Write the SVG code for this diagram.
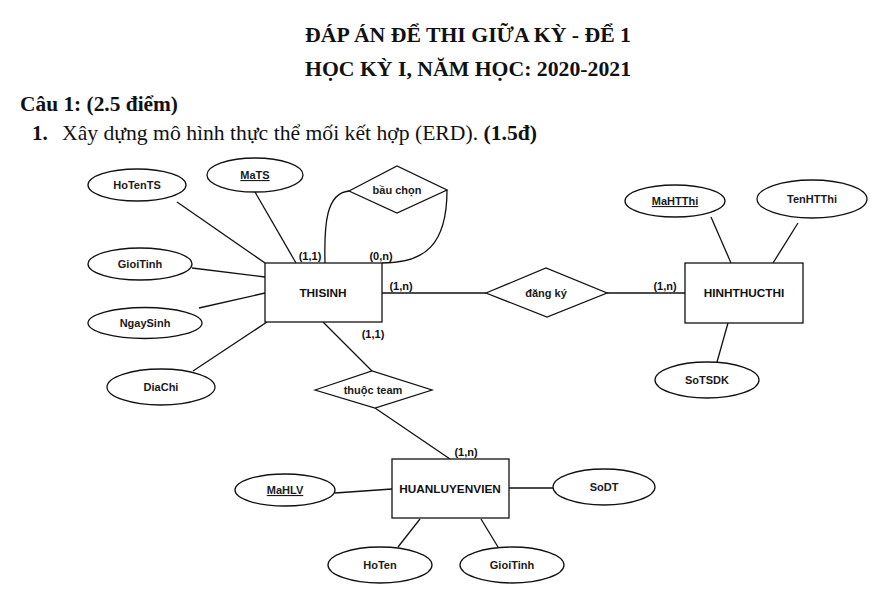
<svg xmlns="http://www.w3.org/2000/svg" width="895" height="602" viewBox="0 0 895 602">
<style>
.hd{font-family:"Liberation Serif","Times New Roman",serif;font-weight:bold;fill:#111}
.bd{font-family:"Liberation Serif","Times New Roman",serif;fill:#111}
.shape{fill:#fff;stroke:#111;stroke-width:1.3}
.ln{fill:none;stroke:#111;stroke-width:1.3}
.t{font-family:"Liberation Sans",Arial,sans-serif;font-size:11px;font-weight:bold;fill:#1a1a1a;text-anchor:middle}
.e{font-family:"Liberation Sans",Arial,sans-serif;font-size:11.8px;font-weight:bold;fill:#111;text-anchor:middle}
.c{font-family:"Liberation Sans",Arial,sans-serif;font-size:11px;font-weight:bold;fill:#111;text-anchor:middle}
.u{text-decoration:underline}
</style>
<rect width="895" height="602" fill="#fff"/>
<g id="header">
<text class="hd" x="305" y="42" font-size="21.5" textLength="326" lengthAdjust="spacingAndGlyphs">ĐÁP ÁN ĐỂ THI GIỮA KỲ - ĐỂ 1</text>
<text class="hd" x="305" y="76" font-size="21.5" textLength="326" lengthAdjust="spacingAndGlyphs">HỌC KỲ I, NĂM HỌC: 2020-2021</text>
<text class="hd" x="20" y="111" font-size="21" textLength="158" lengthAdjust="spacingAndGlyphs">Câu 1: (2.5 điểm)</text>
<text class="hd" x="32" y="140" font-size="21">1.</text>
<text class="bd" x="62" y="140" font-size="21" textLength="475" lengthAdjust="spacingAndGlyphs">Xây dựng mô hình thực thể mối kết hợp (ERD). <tspan font-weight="bold">(1.5đ)</tspan></text>
</g>
<g id="connectors">
<line class="ln" x1="177" y1="202" x2="265" y2="263"/>
<line class="ln" x1="255" y1="192" x2="296" y2="263"/>
<line class="ln" x1="192" y1="268" x2="265" y2="277"/>
<line class="ln" x1="199" y1="308" x2="265" y2="293"/>
<line class="ln" x1="193" y1="371" x2="267" y2="322"/>
<path class="ln" d="M325 263 C324 225 326 193 349 191"/>
<path class="ln" d="M382 263 C425 263 447 245 447 190"/>
<line class="ln" x1="382" y1="293" x2="486" y2="293"/>
<line class="ln" x1="607" y1="293" x2="685" y2="293"/>
<line class="ln" x1="711" y1="217" x2="731" y2="263"/>
<line class="ln" x1="798" y1="223" x2="773" y2="263"/>
<line class="ln" x1="728" y1="323" x2="717" y2="362"/>
<line class="ln" x1="323" y1="322" x2="372" y2="371"/>
<line class="ln" x1="375" y1="408" x2="450" y2="459"/>
<line class="ln" x1="335" y1="493" x2="392" y2="489"/>
<line class="ln" x1="509" y1="488" x2="553" y2="488"/>
<line class="ln" x1="420" y1="519" x2="398" y2="547"/>
<line class="ln" x1="481" y1="519" x2="498" y2="547"/>
</g>
<g id="labels">
<text class="c" x="310" y="260">(1,1)</text>
<text class="c" x="381" y="260">(0,n)</text>
<text class="c" x="401" y="290">(1,n)</text>
<text class="c" x="373" y="338">(1,1)</text>
<text class="c" x="665" y="290">(1,n)</text>
<text class="c" x="466" y="456">(1,n)</text>
</g>
<g id="THISINH"><rect class="shape" x="265" y="263" width="117" height="59"/><text class="e" x="323" y="297">THISINH</text></g>
<g id="HoTenTS"><ellipse class="shape" cx="137" cy="185" rx="49" ry="16"/><text class="t" x="137" y="189">HoTenTS</text></g>
<g id="MaTS"><ellipse class="shape" cx="255" cy="175" rx="48" ry="17"/><text class="t u" x="255" y="179">MaTS</text></g>
<g id="GioiTinh"><ellipse class="shape" cx="140" cy="264" rx="52" ry="16"/><text class="t" x="140" y="268">GioiTinh</text></g>
<g id="NgaySinh"><ellipse class="shape" cx="145" cy="323" rx="57" ry="15.5"/><text class="t" x="145" y="327">NgaySinh</text></g>
<g id="DiaChi"><ellipse class="shape" cx="161" cy="387" rx="54" ry="18"/><text class="t" x="161" y="391">DiaChi</text></g>
<g id="bauchon"><polygon class="shape" points="349,191 397,166 447,190 397,213"/><text class="t" x="397" y="194">bầu chọn</text></g>
<g id="dangky"><polygon class="shape" points="486,293 546,268 607,293 547,317"/><text class="t" x="546" y="297">đăng ký</text></g>
<g id="HINHTHUCTHI"><rect class="shape" x="685" y="263" width="118" height="60"/><text class="e" x="744" y="297">HINHTHUCTHI</text></g>
<g id="MaHTThi"><ellipse class="shape" cx="675" cy="201" rx="50" ry="16"/><text class="t u" x="675" y="205">MaHTThi</text></g>
<g id="TenHTThi"><ellipse class="shape" cx="812" cy="199" rx="55" ry="19"/><text class="t" x="812" y="203">TenHTThi</text></g>
<g id="SoTSDK"><ellipse class="shape" cx="707" cy="380" rx="52" ry="18"/><text class="t" x="707" y="384">SoTSDK</text></g>
<g id="thuocteam"><polygon class="shape" points="315,390 372,371 432,390 375,408"/><text class="t" x="373" y="394">thuộc team</text></g>
<g id="HUANLUYENVIEN"><rect class="shape" x="392" y="459" width="117" height="59"/><text class="e" x="450" y="493">HUANLUYENVIEN</text></g>
<g id="MaHLV"><ellipse class="shape" cx="285" cy="490" rx="50" ry="16"/><text class="t u" x="285" y="494">MaHLV</text></g>
<g id="SoDT"><ellipse class="shape" cx="604" cy="487" rx="51" ry="18"/><text class="t" x="604" y="491">SoDT</text></g>
<g id="HoTen"><ellipse class="shape" cx="380" cy="565" rx="52" ry="18"/><text class="t" x="380" y="569">HoTen</text></g>
<g id="GioiTinh2"><ellipse class="shape" cx="512" cy="565" rx="52" ry="18"/><text class="t" x="512" y="569">GioiTinh</text></g>
</svg>
